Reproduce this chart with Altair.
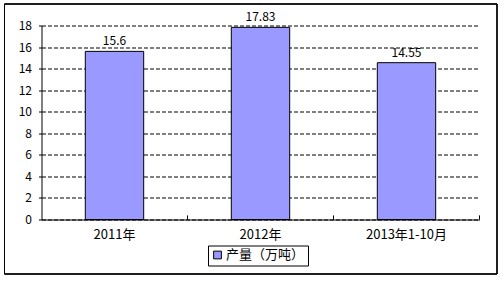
import altair as alt
import pandas as pd

categories = ["2011年", "2012年", "2013年1-10月"]
values = [15.6, 17.83, 14.55]
value_labels = ["15.6", "17.83", "14.55"]
series_name = "产量（万吨）"
y_ticks = [0, 2, 4, 6, 8, 10, 12, 14, 16, 18]

df = pd.DataFrame({
    "cat": categories,
    "val": values,
    "lab": value_labels,
    "series": [series_name] * len(categories),
})

FONT = "Noto Sans CJK SC"

x_scale = alt.Scale(domain=categories, paddingInner=0.6, paddingOuter=0.3)
y_scale = alt.Scale(domain=[0, 18], nice=False)

x_axis = alt.Axis(title=None, labelAngle=0, ticks=False, tickSize=0,
                  labelPadding=9, labelFontSize=13, labelFont=FONT,
                  labelColor="black", domainColor="black", grid=False,
                  zindex=1)
y_axis = alt.Axis(title=None, values=y_ticks, grid=True, gridDash=[4, 2],
                  gridColor="black", gridOpacity=1, tickSize=3,
                  tickColor="black", domainColor="black",
                  labelFontSize=12, labelFont=FONT, labelColor="black",
                  labelPadding=7, labelOverlap=False)

base = alt.Chart(df)

bars = base.mark_bar(stroke="black", strokeWidth=1).encode(
    x=alt.X("cat:N", scale=x_scale, sort=categories, axis=x_axis),
    y=alt.Y("val:Q", scale=y_scale, axis=y_axis),
    color=alt.Color("series:N", scale=alt.Scale(range=["#9999FF"]),
                    legend=alt.Legend(title=None, orient="none", legendX=166.5,
                                      legendY=220, strokeColor="black",
                                      padding=3, symbolType="square",
                                      symbolSize=60, symbolStrokeColor="black",
                                      symbolStrokeWidth=1, symbolOpacity=1,
                                      labelFontSize=13, labelFont=FONT,
                                      labelColor="black", labelOffset=2)),
)

text = base.mark_text(baseline="bottom", dy=-3, fontSize=12, font=FONT,
                      color="black").encode(
    x=alt.X("cat:N", scale=x_scale, sort=categories, axis=x_axis),
    y=alt.Y("val:Q", scale=y_scale, axis=y_axis),
    text="lab:N",
)

ticks = base.mark_rule(xOffset=73, color="black", strokeWidth=1).encode(
    x=alt.X("cat:N", scale=x_scale, sort=categories, axis=x_axis),
    y=alt.datum(0, scale=y_scale, axis=y_axis),
    y2=alt.datum(0.38),
)

frame = base.mark_rect(filled=False, stroke="black", strokeWidth=1).encode(
    x=alt.value(-37), x2=alt.value(455.5), y=alt.value(-21.5), y2=alt.value(248.5)
)

chart = alt.layer(bars, text, ticks, frame).properties(
    width=438, height=194,
    autosize=alt.AutoSizeParams(type="none"),
    padding={"left": 41.5, "top": 25.5, "right": 24, "bottom": 61},
    background="white",
).configure_view(stroke=None)

chart.save("out.html", embed_options={"renderer": "svg", "actions": False})
